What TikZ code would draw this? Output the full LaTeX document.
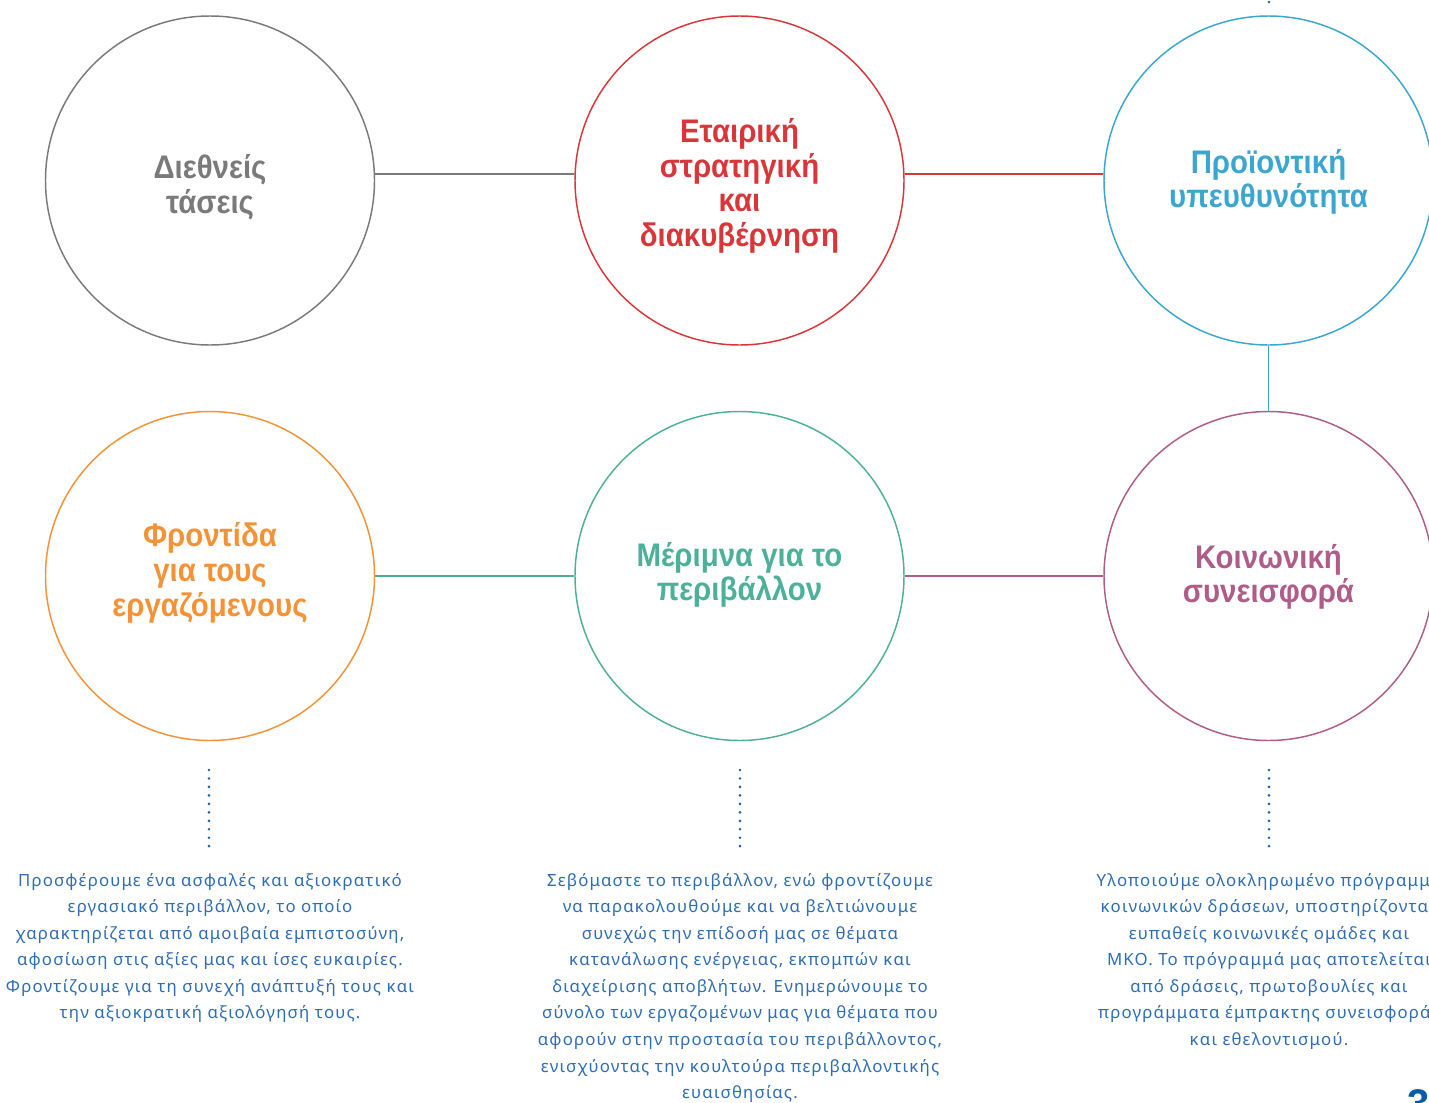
\documentclass[tikz,border=0pt]{standalone}
\usepackage{fontspec}
\setmainfont{Noto Sans}
\newfontfamily\titlefont[FakeStretch=0.9]{Liberation Sans}
\newfontfamily\pagefont{Liberation Sans}
\newfontfamily\bodyfont[LetterSpace=7]{Noto Sans}
\definecolor{cgray}{HTML}{7A7A7A}
\definecolor{cred}{HTML}{D9363A}
\definecolor{cblue}{HTML}{3BA6D0}
\definecolor{corange}{HTML}{F39237}
\definecolor{cteal}{HTML}{4DB09A}
\definecolor{cpurple}{HTML}{B05C8A}
\definecolor{ctext}{HTML}{2E6DB4}
\definecolor{cdot}{HTML}{1F5FA8}
\definecolor{cpage}{HTML}{0B5CA8}
\begin{document}
\begin{tikzpicture}[x=0.75pt,y=-0.75pt,
  circ/.style={circle,draw,line width=1.1pt,minimum size=246.75pt,inner sep=0pt},
  ttl/.style={align=center,inner sep=0pt,
    font=\titlefont\bfseries\fontsize{24.5}{26}\selectfont},
  conn/.style={line width=1.1pt},
  dotline/.style={line width=2.2pt,draw=cdot,dash pattern=on 0pt off 6.35pt,line cap=round},
  body/.style={text=ctext,align=center,inner sep=0pt,anchor=north,
    font=\bodyfont\fontsize{12.6}{19.9}\selectfont}]
\useasboundingbox (0,0) rectangle (1429,1103);
% circles
\node[circ,draw=cgray] (c1) at (210,180.5) {};
\node[circ,draw=cred] (c2) at (739.5,180.5) {};
\node[circ,draw=cblue] (c3) at (1268.5,180.5) {};
\node[circ,draw=corange] (c4) at (210,576) {};
\node[circ,draw=cteal] (c5) at (739.5,576) {};
\node[circ,draw=cpurple] (c6) at (1268.5,576) {};
% titles
\node[ttl,text=cgray] (l1) at (210,187) {Διεθνείς\\τάσεις};
\node[ttl,text=cred] (l2) at (739.5,186) {Εταιρική\\στρατηγική\\και\\διακυβέρνηση};
\node[ttl,text=cblue] (l3) at (1268.5,182) {Προϊοντική\\υπευθυνότητα};
\node[ttl,text=corange] (l4) at (210,573) {Φροντίδα\\για τους\\εργαζόμενους};
\node[ttl,text=cteal] (l5) at (739.5,575) {Μέριμνα για το\\περιβάλλον};
\node[ttl,text=cpurple] (l6) at (1268.5,577) {Κοινωνική\\συνεισφορά};
% connectors
\draw[conn,cgray] ([yshift=4.9pt]c1.east) -- ([yshift=4.9pt]c2.west);
\draw[conn,cred] ([yshift=4.9pt]c2.east) -- ([yshift=4.9pt]c3.west);
\draw[conn,cblue] (c3.south) -- (c6.north);
\draw[conn,cteal] (c4.east) -- (c5.west);
\draw[conn,cpurple] (c5.east) -- (c6.west);
% dotted lines
\coordinate (d1a) at (209,770); \coordinate (d1b) at (209,854);
\coordinate (d2a) at (740,770); \coordinate (d2b) at (740,854);
\coordinate (d3a) at (1269,770); \coordinate (d3b) at (1269,854);
\coordinate (d4a) at (1269,2); \coordinate (d4b) at (1269,4);
\draw[dotline] (d1a) -- (d1b);
\draw[dotline] (d2a) -- (d2b);
\draw[dotline] (d3a) -- (d3b);
\draw[dotline] (d4a) -- (d4b);
% body texts
\node[body] (t1) at (210,873) {Προσφέρουμε ένα ασφαλές και αξιοκρατικό\\εργασιακό περιβάλλον, το οποίο\\χαρακτηρίζεται από αμοιβαία εμπιστοσύνη,\\αφοσίωση στις αξίες μας και ίσες ευκαιρίες.\\Φροντίζουμε για τη συνεχή ανάπτυξή τους και\\την αξιοκρατική αξιολόγησή τους.};
\node[body] (t2) at (740,873) {Σεβόμαστε το περιβάλλον, ενώ φροντίζουμε\\να παρακολουθούμε και να βελτιώνουμε\\συνεχώς την επίδοσή μας σε θέματα\\κατανάλωσης ενέργειας, εκπομπών και\\διαχείρισης αποβλήτων. Ενημερώνουμε το\\σύνολο των εργαζομένων μας για θέματα που\\αφορούν στην προστασία του περιβάλλοντος,\\ενισχύοντας την κουλτούρα περιβαλλοντικής\\ευαισθησίας.};
\node[body] (t3) at (1269,873) {Υλοποιούμε ολοκληρωμένο πρόγραμμα\\κοινωνικών δράσεων, υποστηρίζοντας\\ευπαθείς κοινωνικές ομάδες και\\ΜΚΟ. Το πρόγραμμά μας αποτελείται\\από δράσεις, πρωτοβουλίες και\\προγράμματα έμπρακτης συνεισφοράς\\και εθελοντισμού.};
% page number
\node[anchor=north west,inner sep=0pt,text=cpage,font=\pagefont\bfseries\fontsize{30}{30}\selectfont] (pg) at (1407,1089) {3};
\end{tikzpicture}
\end{document}
